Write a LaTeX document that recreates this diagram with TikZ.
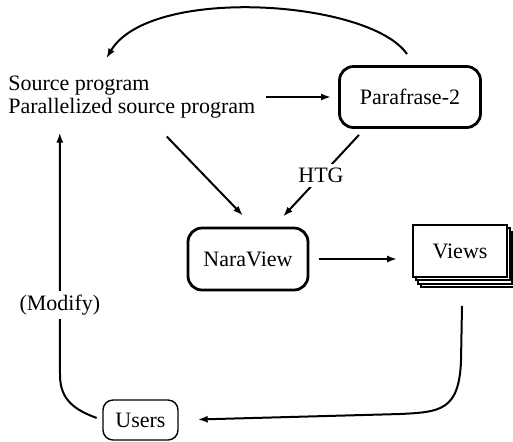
\documentclass[tikz,border=0pt]{standalone}
\usepackage{fontspec}
\setmainfont{Liberation Serif}
\usetikzlibrary{arrows.meta,shadows}
\tikzset{
	textnode/.style = {align=left, inner sep=0pt},
	procbox/.style = {draw=black, rounded corners=7pt, line width=1.4pt, align=center, inner sep=0pt},
	viewbox/.style = {draw=black, fill=white, line width=0.9pt, inner sep=0pt,
		copy shadow={shadow xshift=4pt, shadow yshift=-5pt},
		copy shadow={shadow xshift=2.67pt, shadow yshift=-3.33pt},
		copy shadow={shadow xshift=1.33pt, shadow yshift=-1.67pt}},
	userbox/.style = {draw=black, rounded corners=5pt, line width=0.7pt, inner sep=0pt},
	flow/.style = {-{Latex[length=5pt,width=3.5pt]}, line width=1pt},
	note/.style = {fill=white, inner sep=2pt}
}

\begin{document}
\begin{tikzpicture}[x=0.5pt, y=-0.5pt, font=\fontsize{11}{11.5}\selectfont]
\useasboundingbox (0,0) rectangle (513,441);
\node [textnode, anchor=west] (src) at (8,97) {Source program\\Parallelized source program};
\node [procbox, minimum width=70.5pt, minimum height=30.5pt] (para) at (410,97) {Parafrase-2};
\node [procbox, minimum width=60pt, minimum height=31pt] (nara) at (248,259) {NaraView};
\node [viewbox, minimum width=47pt, minimum height=26pt] (views) at (460,251) {Views};
\node [userbox, minimum width=37.5pt, minimum height=20pt] (users) at (140.5,420) {Users};

\draw [flow, shorten <=5pt, shorten >=3.5pt] (src.east) -- (src.east -| para.west);
\draw [flow] ([xshift=-1.5pt,yshift=5.5pt]para.north) .. controls (370,0) and (150,-15) .. ([xshift=-12.75pt,yshift=8.5pt]src.north);
\draw [flow] ([xshift=17.5pt,yshift=-9pt]src.south) -- ([xshift=-2.5pt,yshift=5.5pt]nara.north);
\draw [flow] ([xshift=-25.5pt,yshift=-3pt]para.south) -- node [note] {HTG} ([xshift=17.5pt,yshift=5pt]nara.north);
\draw [flow, shorten <=5pt, shorten >=7.5pt] (nara.east) -- (nara.east -| views.west);
\draw [flow, shorten >=9.5pt] ([xshift=1pt,yshift=-14pt]views.south) -- ++(-1,55) .. controls +(-2,50) and +(40,-2) .. (400,414) -- (users.east);
\draw [flow, shorten <=3pt] (users.west) .. controls (75,410) and (60,400) .. (60,375) -- node [note, pos=.29] {(Modify)} ([xshift=-36pt,yshift=-7pt]src.south);
\end{tikzpicture}
\end{document}
